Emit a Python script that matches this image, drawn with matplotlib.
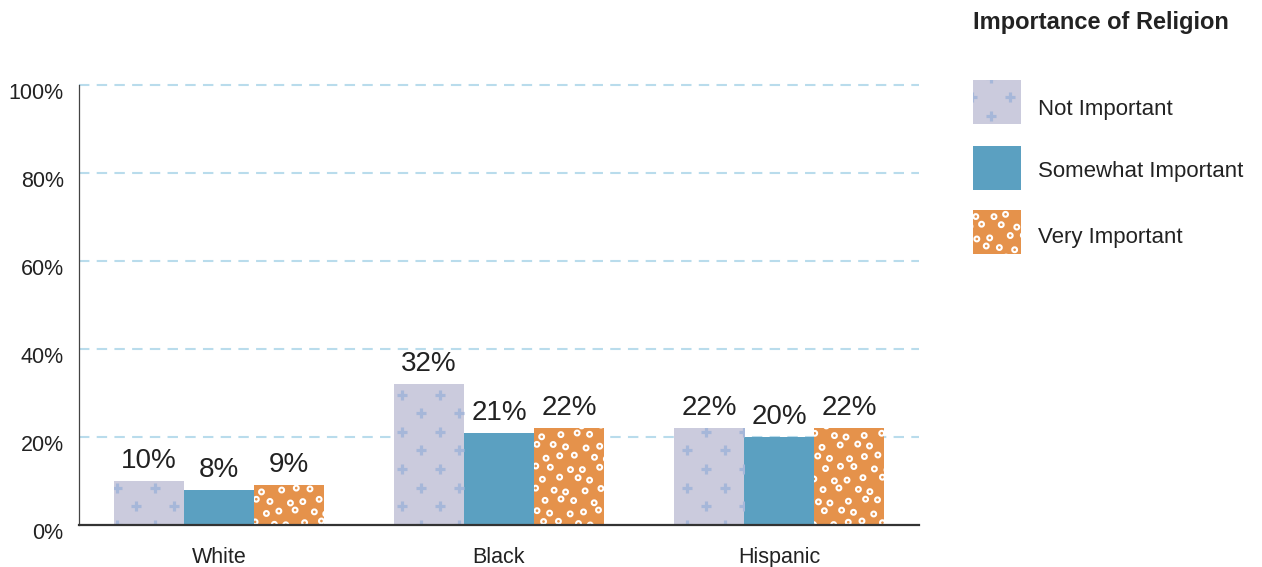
import numpy as np
import matplotlib
matplotlib.use("Agg")
import matplotlib.pyplot as plt
from matplotlib.patches import Rectangle
from matplotlib.transforms import IdentityTransform

plt.rcParams['font.family'] = ['Liberation Sans', 'DejaVu Sans']

# data
groups = ["White", "Black", "Hispanic"]
series = ["Not Important", "Somewhat Important", "Very Important"]
not_important = [10, 32, 22]
somewhat_important = [8, 21, 20]
very_important = [9, 22, 22]
yticks = [0, 20, 40, 60, 80, 100]

colors = ["#cbcbdd", "#5ba0c1", "#e5924b"]
textures = ["plus", None, "ring"]
W, H = 1262, 567


def texture(ax, patch, kind):
    # scatter a little pattern over a patch, clipped to it (display pixels)
    if kind is None:
        return
    bb = patch.get_extents()
    xs, ys = [], []
    if kind == "plus":
        sx, sy = 38.0, 18.6
        for r in range(int(bb.y0 // sy) - 1, int(bb.y1 // sy) + 2):
            off = (r % 2) * sx / 2
            for c in range(int(bb.x0 // sx) - 1, int(bb.x1 // sx) + 2):
                xs.append(c * sx + off + 3)
                ys.append(r * sy + 5)
        sc = ax.scatter(xs, ys, transform=IdentityTransform(), marker='+', s=42,
                        c="#a6b7d9", linewidths=2.3, zorder=patch.get_zorder() + 0.1)
    else:
        sx, sy = 16.0, 11.0
        for r in range(int(bb.y0 // sy) - 1, int(bb.y1 // sy) + 2):
            for c in range(int(bb.x0 // sx) - 1, int(bb.x1 // sx) + 2):
                jx = 2.5 * np.sin(c * 2.3 + r * 1.7)
                jy = 2.0 * np.cos(c * 1.3 + r * 2.9)
                xs.append(c * sx + jx + (r % 2) * sx / 2)
                ys.append(r * sy + jy)
        sc = ax.scatter(xs, ys, transform=IdentityTransform(), marker='o', s=12,
                        facecolors='none', edgecolors='white', linewidths=1.5,
                        zorder=patch.get_zorder() + 0.1)
    sc.set_clip_path(patch)


fig = plt.figure(figsize=(W / 100, H / 100), dpi=100)
ax = fig.add_axes([79 / W, 1 - 525 / H, 840 / W, 440 / H])
ax.set_xlim(-0.5, 2.5)
ax.set_ylim(0, 100)
ax.set_autoscale_on(False)

for t in yticks[1:]:
    ax.axhline(t, color="#b9dcec", lw=1.5, dashes=(5, 3.5), zorder=0, clip_on=False)

x = np.arange(len(groups))
bw = 0.25
for i, (vals, col, tex) in enumerate(zip([not_important, somewhat_important, very_important],
                                         colors, textures)):
    bars = ax.bar(x + (i - 1) * bw, vals, width=bw, color=col, zorder=2)
    for b, v in zip(bars, vals):
        texture(ax, b, tex)
        ax.annotate(f"{v}%", (b.get_x() + b.get_width() / 2, v), xytext=(0, 5),
                    textcoords="offset points", ha="center", va="bottom",
                    fontsize=20, color="#222222")

# y tick labels sit a bit below their gridlines
ax.set_yticks(yticks)
ax.set_yticklabels([])
for t in yticks:
    ax.annotate(f"{t}%", (0, t), xycoords=("axes fraction", "data"), xytext=(-11, -6),
                textcoords="offset points", ha="right", va="center",
                fontsize=15.5, color="#222222", annotation_clip=False)
ax.set_xticks(x)
ax.set_xticklabels(groups, fontsize=15.5, color="#222222")
ax.tick_params(axis="y", length=0)
ax.tick_params(axis="x", length=0, pad=15.5)
for s in ["top", "right"]:
    ax.spines[s].set_visible(False)
ax.spines["bottom"].set_color("#333333")
ax.spines["bottom"].set_linewidth(1.6)
ax.spines["bottom"].set_zorder(3)
ax.spines["left"].set_color("#444444")
ax.spines["left"].set_linewidth(0.9)

# legend drawn in a figure-wide overlay in pixel units
lax = fig.add_axes([0, 0, 1, 1])
lax.set_xlim(0, W)
lax.set_ylim(H, 0)
lax.axis("off")
lax.set_autoscale_on(False)
lax.text(973, 23, "Importance of Religion", fontsize=17, fontweight="bold",
         va="center", ha="left", color="#222222")
leg_top = [80, 146, 210]
leg_text_y = [110, 171, 238]
for name, col, tex, top, ty in zip(series, colors, textures, leg_top, leg_text_y):
    r = Rectangle((973, top), 48, 44, facecolor=col, edgecolor="none", zorder=2)
    lax.add_patch(r)
    texture(lax, r, tex)
    lax.text(1038, ty, name, fontsize=16, va="center", ha="left", color="#222222")

fig.savefig("out.png", dpi=100)
